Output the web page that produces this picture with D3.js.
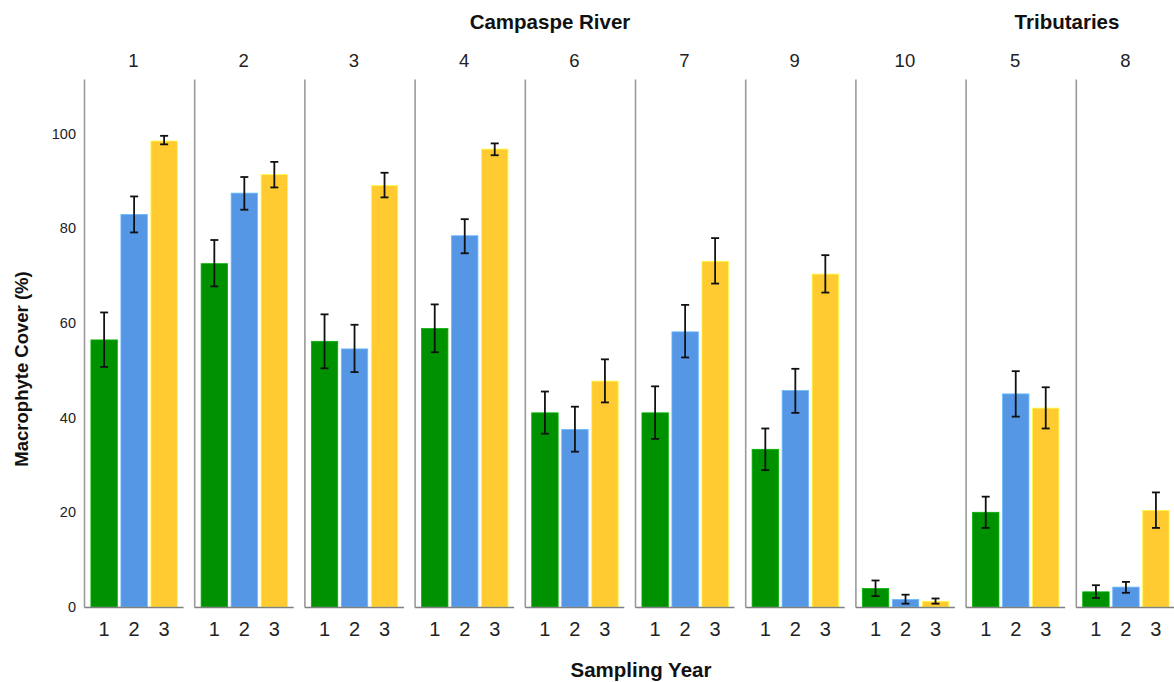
<!DOCTYPE html>
<html>
<head>
<meta charset="utf-8">
<script src="https://cdn.jsdelivr.net/npm/d3@7"></script>
<style>
  html, body { margin: 0; padding: 0; background: #fff; }
  svg { display: block; font-family: "Liberation Sans", Arial, sans-serif; }
</style>
</head>
<body>
<svg id="chart" width="1174" height="682"></svg>
<script>
// ---- data ----
const panels = ["1", "2", "3", "4", "6", "7", "9", "10", "5", "8"];
const panelGroups = ["Campaspe River", "Campaspe River", "Campaspe River", "Campaspe River",
                     "Campaspe River", "Campaspe River", "Campaspe River", "Campaspe River",
                     "Tributaries", "Tributaries"];
const years = ["1", "2", "3"];
const yTicks = [0, 20, 40, 60, 80, 100];

const year1Mean = [56.4, 72.5, 56.1, 58.8, 41.0, 41.0, 33.3, 3.9, 20.0, 3.2];
const year1Low  = [50.7, 67.7, 50.4, 53.8, 36.6, 35.5, 28.9, 2.3, 16.7, 1.9];
const year1High = [62.2, 77.5, 61.8, 63.9, 45.5, 46.6, 37.7, 5.6, 23.3, 4.6];

const year2Mean = [82.9, 87.4, 54.5, 78.4, 37.5, 58.1, 45.7, 1.6, 45.0, 4.2];
const year2Low  = [79.1, 83.9, 49.6, 74.7, 32.8, 52.7, 41.0, 0.7, 40.2, 3.0];
const year2High = [86.7, 90.8, 59.6, 81.9, 42.3, 63.8, 50.3, 2.6, 49.8, 5.3];

const year3Mean = [98.4, 91.3, 89.0, 96.7, 47.7, 73.0, 70.3, 1.2, 42.0, 20.4];
const year3Low  = [97.7, 88.6, 86.5, 95.4, 43.2, 68.3, 66.4, 0.7, 37.7, 16.7];
const year3High = [99.5, 94.0, 91.7, 97.9, 52.3, 77.9, 74.3, 1.8, 46.4, 24.2];

const yearColors = ["#009100", "#5596e5", "#ffcb31"];

// ---- build table ----
const means = [year1Mean, year2Mean, year3Mean];
const lows = [year1Low, year2Low, year3Low];
const highs = [year1High, year2High, year3High];
const rows = [];
panels.forEach((p, i) => {
  years.forEach((yr, j) => {
    rows.push({ panel: p, year: yr, mean: means[j][i], low: lows[j][i], high: highs[j][i], color: yearColors[j] });
  });
});

const svg = d3.select("#chart");

const panelScale = d3.scaleBand().domain(panels).range([84, 84 + 110.2 * panels.length]).padding(0);
const innerW = 99;
const x = d3.scaleBand().domain(years).range([0, innerW]).paddingInner(0.12).paddingOuter(0.21).align(0.55);
const y = d3.scaleLinear().domain([0, 111.5]).range([607, 79]);

// y-axis tick labels
svg.append("g")
  .attr("transform", "translate(80,0)")
  .call(d3.axisLeft(y).tickValues(yTicks).tickSize(0).tickPadding(4))
  .call(g => g.select(".domain").remove())
  .call(g => g.selectAll("text").attr("font-size", 14.5).attr("fill", "#222")
        .attr("font-family", "'Liberation Sans', Arial, sans-serif"));

// panels
const pg = svg.selectAll("g.panel").data(panels).join("g")
  .attr("class", "panel")
  .attr("transform", d => `translate(${panelScale(d)},0)`);

// vertical axis line
pg.append("g")
  .call(d3.axisLeft(y).tickValues([]).tickSizeOuter(0))
  .call(g => g.select(".domain").attr("stroke", "#9a9a9a").attr("stroke-width", 1.6));

// bars
pg.each(function (p) {
  const g = d3.select(this);
  const data = rows.filter(r => r.panel === p);
  g.selectAll("rect.bar").data(data).join("rect")
    .attr("class", "bar")
    .attr("x", d => x(d.year))
    .attr("width", x.bandwidth())
    .attr("y", d => y(d.mean))
    .attr("height", d => y(0) - y(d.mean))
    .attr("fill", d => d.color)
    .attr("stroke", d => d3.color(d.color).brighter(0.6))
    .attr("stroke-width", 0.8);

  const eb = g.selectAll("g.err").data(data).join("g").attr("class", "err")
    .attr("stroke", "#111").attr("stroke-width", 1.8);
  const cx = d => x(d.year) + x.bandwidth() / 2;
  eb.append("line").attr("x1", cx).attr("x2", cx).attr("y1", d => y(d.high)).attr("y2", d => y(d.low));
  eb.append("line").attr("x1", d => cx(d) - 4).attr("x2", d => cx(d) + 4).attr("y1", d => y(d.high)).attr("y2", d => y(d.high));
  eb.append("line").attr("x1", d => cx(d) - 4).attr("x2", d => cx(d) + 4).attr("y1", d => y(d.low)).attr("y2", d => y(d.low));
});

// bottom axis per panel
pg.append("g")
  .attr("transform", `translate(0,${y(0)})`)
  .call(d3.axisBottom(x).tickSize(0).tickSizeOuter(0).tickPadding(15))
  .call(g => g.select(".domain").attr("stroke", "#808080").attr("stroke-width", 1.6))
  .call(g => g.selectAll("text").attr("font-size", 20).attr("fill", "#222")
        .attr("font-family", "'Liberation Sans', Arial, sans-serif").attr("dy", "0.71em"));

// panel labels
pg.append("text")
  .attr("x", innerW / 2)
  .attr("y", 67)
  .attr("text-anchor", "middle")
  .attr("font-size", 18.5)
  .attr("fill", "#222")
  .text(d => d);

// group headers
const groupNames = Array.from(new Set(panelGroups));
const headerX = { "Campaspe River": 550, "Tributaries": 1067 };
svg.selectAll("text.header").data(groupNames).join("text")
  .attr("class", "header")
  .attr("x", d => headerX[d])
  .attr("y", 29)
  .attr("text-anchor", "middle")
  .attr("font-size", 20.5)
  .attr("font-weight", "bold")
  .attr("fill", "#111")
  .text(d => d);

// axis titles
svg.append("text")
  .attr("transform", "translate(28,369) rotate(-90)")
  .attr("text-anchor", "middle")
  .attr("font-size", 18.5)
  .attr("font-weight", "bold")
  .attr("fill", "#111")
  .text("Macrophyte Cover (%)");

svg.append("text")
  .attr("x", 641)
  .attr("y", 677)
  .attr("text-anchor", "middle")
  .attr("font-size", 20.5)
  .attr("font-weight", "bold")
  .attr("fill", "#111")
  .text("Sampling Year");
</script>
</body>
</html>
